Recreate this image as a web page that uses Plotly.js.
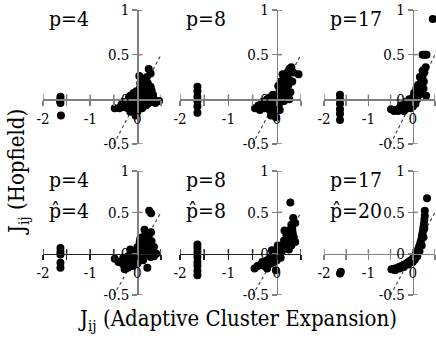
<!DOCTYPE html>
<html>
<head>
<meta charset="utf-8">
<script src="https://cdn.plot.ly/plotly-3.0.1.min.js"></script>
<style>
  html, body { margin: 0; padding: 0; background: #fff; }
  #chart { width: 436px; height: 339px; }
</style>
</head>
<body>
<div id="chart"></div>
<script>
// tick marks and labels
const X_TICKS = [-2, -1.5, -1, -0.5, 0, 0.5];
const X_TEXT = ['-2', ' ', '-1', ' ', '0', ' '];
const Y_TICKS = [-0.5, 0, 0.5, 1];
const Y_TEXT = ['-0.5', '0', '0.5', '1'];
const DIAG = [-0.5, 0.5];

const P_LABELS = ['p=4', 'p=8', 'p=17', 'p=4', 'p=8', 'p=17'];
const PHAT_LABELS = ['', '', '', 'p\u0302=4', 'p\u0302=8', 'p\u0302=20'];

// top row, p=4
const p4x = [-1.63, -1.63, -1.64, -1.63, -1.62,
  0.24, 0.28, 0.2, 0.15, 0.22, 0.1, 0.05, 0.18, 0.3, 0.25, 0.12, 0.0, -0.05, 0.08, 0.2, 0.35, 0.46,
  0.3, 0.15, 0.02, -0.1, -0.15, -0.2, -0.25, -0.12, -0.05, 0.05, 0.1, -0.3, -0.38, -0.48, -0.2, -0.1,
  0.0, -0.04, -0.15, 0.18, 0.12, 0.06, -0.02, 0.28, 0.04, -0.08, 0.16, 0.22, -0.3,
  -0.22, -0.18, -0.1, 0.02, 0.1, 0.14, 0.26, 0.33, 0.38, -0.34, -0.26, 0.0, 0.08, 0.2];
const p4y = [0.03, 0.0, -0.02, -0.04, -0.18,
  0.34, 0.29, 0.25, 0.2, 0.18, 0.15, 0.12, 0.12, 0.1, 0.05, 0.08, 0.06, 0.03, 0.03, 0.0, 0.0, -0.02,
  -0.03, -0.02, 0.0, 0.0, 0.04, -0.02, -0.05, -0.06, -0.04, -0.06, -0.1, -0.08, -0.1, -0.1, -0.1, -0.12,
  -0.1, -0.18, -0.14, -0.07, 0.22, 0.18, 0.09, 0.14, 0.26, 0.07, 0.05, -0.05, -0.03,
  -0.07, 0.02, 0.05, 0.04, 0.1, 0.12, 0.08, 0.05, -0.04, -0.06, -0.09, -0.14, -0.02, 0.1];

// top row, p=8
const p8x = [-1.64, -1.64, -1.64, -1.64, -1.64, -1.64,
  0.26, 0.3, 0.45, 0.22, 0.2, 0.25, 0.15, 0.18, 0.26, 0.28, 0.1, 0.05, 0.12, 0.0, -0.05, 0.08, 0.15,
  -0.1, -0.15, -0.2, -0.25, -0.3, -0.45, -0.35, -0.1, 0.0, -0.02, -0.05, -0.15, 0.05, 0.2, 0.32, 0.12,
  -0.08, -0.2, 0.03, 0.22, -0.12, 0.06,
  -0.25, -0.18, -0.06, 0.02, 0.1, 0.16, 0.24, 0.34, -0.38, -0.3, 0.08, 0.18];
const p8y = [0.14, 0.09, 0.03, -0.02, -0.08, -0.15,
  0.34, 0.36, 0.28, 0.3, 0.25, 0.22, 0.18, 0.13, 0.0, 0.08, 0.12, 0.08, 0.05, 0.04, 0.0, 0.0, -0.02,
  -0.03, 0.02, -0.05, -0.06, -0.08, -0.1, -0.12, -0.1, -0.07, -0.2, -0.15, -0.12, -0.05, 0.05, 0.2, 0.28,
  0.05, 0.0, 0.15, 0.1, -0.18, -0.12,
  -0.1, -0.08, -0.05, 0.0, 0.03, 0.1, 0.16, 0.3, -0.07, -0.03, 0.2, 0.02];

// top row, p=17
const p17x = [-1.64, -1.64, -1.64, -1.64, -1.64, -1.64,
  0.45, 0.22, 0.27, 0.31, 0.29, 0.26, 0.22, 0.2, 0.18, 0.15, 0.25, 0.12, 0.1, 0.08, 0.05, 0.0, 0.02,
  -0.05, -0.1, -0.15, -0.2, -0.25, -0.3, -0.49, -0.38, -0.12, -0.05, 0.0, 0.06, 0.1, 0.14, 0.18, -0.2,
  0.03, -0.08, 0.2, 0.16, 0.3,
  -0.42, -0.33, -0.27, -0.17, -0.1, -0.02, 0.04, 0.08, 0.12, 0.22, 0.24];
const p17y = [0.05, 0.0, -0.05, -0.11, -0.16, -0.23,
  0.9, 0.5, 0.5, 0.5, 0.36, 0.3, 0.26, 0.22, 0.18, 0.14, 0.2, 0.1, 0.07, 0.12, 0.04, 0.02, -0.02,
  -0.02, -0.05, -0.06, -0.08, -0.1, -0.1, -0.11, -0.12, -0.1, -0.1, -0.08, -0.05, 0.0, 0.05, 0.08, -0.13,
  0.07, 0.0, 0.12, 0.25, 0.04,
  -0.13, -0.13, -0.07, -0.03, -0.08, -0.04, 0.0, 0.02, 0.16, 0.32, 0.12];

// bottom row, p=4, p-hat=4
const q4x = [-1.63, -1.63, -1.63, -1.63, -1.63,
  0.25, 0.29, 0.15, 0.29, 0.1, 0.2, 0.05, 0.15, 0.25, 0.0, 0.1, 0.3, 0.4, 0.2, 0.05, -0.05, -0.1,
  -0.2, -0.3, -0.48, -0.35, -0.25, -0.27, -0.15, -0.05, 0.05, 0.21, 0.12, -0.1, -0.2, 0.0, 0.35, 0.08,
  -0.15, 0.18, 0.28,
  -0.4, -0.3, -0.12, -0.02, 0.02, 0.12, 0.18, 0.24, 0.3, 0.35, -0.22, 0.06];
const q4y = [0.07, 0.02, -0.01, -0.11, -0.17,
  0.52, 0.49, 0.29, 0.26, 0.2, 0.18, 0.14, 0.1, 0.12, 0.08, 0.05, 0.02, 0.0, 0.0, 0.0, 0.02, -0.02,
  -0.03, -0.05, -0.06, -0.1, -0.12, -0.19, -0.08, -0.08, -0.05, -0.17, -0.08, -0.15, -0.17, -0.12, 0.08, 0.1,
  0.05, 0.06, -0.04,
  -0.1, -0.13, -0.05, -0.03, 0.05, 0.0, 0.22, 0.2, 0.15, -0.03, -0.09, 0.18];

// bottom row, p=8, p-hat=8
const q8x = [-1.64, -1.64, -1.64, -1.64, -1.64, -1.64, -1.64, -1.64,
  0.28, 0.34, 0.38, 0.3, 0.32, 0.25, 0.28, 0.2, 0.15, 0.22, 0.3, 0.1, 0.05, 0.12, 0.0, -0.05, 0.05,
  -0.1, -0.15, -0.2, -0.3, -0.46, -0.35, -0.25, -0.12, -0.05, 0.0, -0.02, 0.08, 0.18, 0.25, 0.35, 0.16,
  -0.1, 0.02, 0.26, -0.2, 0.38,
  -0.4, -0.3, -0.18, -0.08, -0.03, 0.04, 0.1, 0.14, 0.2, 0.24, 0.33];
const q8y = [0.11, 0.07, 0.02, -0.04, -0.1, -0.15, -0.21, -0.26,
  0.62, 0.43, 0.37, 0.35, 0.3, 0.28, 0.22, 0.22, 0.16, 0.15, 0.1, 0.1, 0.06, 0.04, 0.02, 0.0, -0.02,
  -0.03, -0.06, -0.08, -0.1, -0.18, -0.14, -0.15, -0.12, -0.1, -0.08, -0.2, -0.05, 0.08, 0.05, 0.2, 0.28,
  0.04, 0.1, 0.18, -0.18, 0.14,
  -0.15, -0.13, -0.12, -0.07, -0.04, 0.0, 0.05, 0.1, 0.15, 0.12, 0.25];

// bottom row, p=17, p-hat=20
const q20x = [-1.64, -1.62, 0.32,
  -0.48, -0.44, -0.4, -0.36, -0.32, -0.28, -0.24, -0.2, -0.16, -0.12, -0.08, -0.04, 0.0, 0.03, 0.06,
  0.08, 0.1, 0.12, 0.14, 0.16, 0.18, 0.2, 0.21, 0.22, 0.23, 0.24, 0.25, 0.26, 0.27, 0.27,
  -0.4, -0.3, -0.2, -0.1, 0.0, 0.05, 0.1, 0.15, 0.2, 0.24, 0.26];
const q20y = [-0.24, -0.22, 0.67,
  -0.19, -0.185, -0.18, -0.175, -0.165, -0.155, -0.145, -0.135, -0.125, -0.11, -0.095, -0.08, -0.06, -0.04, -0.02,
  0.0, 0.02, 0.05, 0.08, 0.11, 0.15, 0.19, 0.22, 0.25, 0.28, 0.32, 0.36, 0.41, 0.46, 0.52,
  -0.2, -0.18, -0.16, -0.13, -0.1, -0.07, -0.03, 0.03, 0.1, 0.2, 0.3];

const PANEL_X = [p4x, p8x, p17x, q4x, q8x, q20x];
const PANEL_Y = [p4y, p8y, p17y, q4y, q8y, q20y];

(function () {
  'use strict';

  const W = 436, H = 339;
  const XR = [-2, 0.5], YR = [-0.5, 1];
  const FONT = 'DejaVu Serif Condensed, DejaVu Serif';
  const GREY = '#808080';

  // pixel boxes of each panel (left, right) and (top, bottom)
  const COLS = [[43, 161], [180, 301], [324, 435]];
  const ROWS = [[10, 144], [171, 295]];

  const px = (v) => v / W;
  const py = (v) => 1 - v / H;

  const layout = {
    width: W,
    height: H,
    margin: { t: 0, r: 0, b: 0, l: 0 },
    paper_bgcolor: '#fff',
    plot_bgcolor: 'rgba(0,0,0,0)',
    showlegend: false,
    font: { family: FONT, color: '#000', size: 15 },
    shapes: [],
    annotations: [],
  };
  const data = [];

  for (let i = 0; i < 6; i++) {
    const n = i + 1;
    const col = COLS[i % 3], row = ROWS[Math.floor(i / 3)];
    const xd = [px(col[0]), px(col[1])];
    const yd = [py(row[1]), py(row[0])];
    const xPos = yd[0] + (yd[1] - yd[0]) * (0 - YR[0]) / (YR[1] - YR[0]);
    const yPos = xd[0] + (xd[1] - xd[0]) * (0 - XR[0]) / (XR[1] - XR[0]);
    const xa = 'x' + (n === 1 ? '' : n), ya = 'y' + (n === 1 ? '' : n);
    const xline = (i === 3 || i === 4) ? '#222' : GREY;

    layout['xaxis' + (n === 1 ? '' : n)] = {
      domain: xd, range: XR, anchor: 'free', position: xPos,
      showline: true, linecolor: xline, linewidth: 1.5,
      ticks: 'outside', ticklen: 5, tickwidth: 1.5, tickcolor: xline,
      tickmode: 'array', tickvals: X_TICKS, ticktext: X_TEXT, ticklabeloverflow: 'allow',
      tickfont: { family: FONT, size: 15, color: '#000' },
      showgrid: false, zeroline: false, fixedrange: true,
    };
    layout['yaxis' + (n === 1 ? '' : n)] = {
      domain: yd, range: YR, anchor: 'free', position: yPos,
      showline: true, linecolor: GREY, linewidth: 1.5,
      ticks: 'outside', ticklen: 5, tickwidth: 1.5, tickcolor: GREY,
      tickmode: 'array', tickvals: Y_TICKS, ticktext: Y_TEXT, ticklabeloverflow: 'allow',
      tickfont: { family: FONT, size: 15, color: '#000' },
      showgrid: false, zeroline: false, fixedrange: true,
    };

    // other half of the crossing ticks
    X_TICKS.forEach((t) => layout.shapes.push({
      type: 'line', xref: xa, yref: ya, x0: t, x1: t, y0: 0, y1: 0.055,
      line: { color: xline, width: 1.5 }, layer: 'below',
    }));
    Y_TICKS.forEach((t) => layout.shapes.push({
      type: 'line', xref: xa, yref: ya, x0: 0, x1: 0.11, y0: t, y1: t,
      line: { color: GREY, width: 1.5 }, layer: 'below',
    }));

    data.push({
      type: 'scatter', mode: 'lines', x: DIAG, y: DIAG, xaxis: xa, yaxis: ya,
      line: { color: '#444', width: 1.2, dash: 'dot' }, hoverinfo: 'skip',
    });
    data.push({
      type: 'scatter', mode: 'markers', x: PANEL_X[i], y: PANEL_Y[i], xaxis: xa, yaxis: ya,
      marker: { color: '#000', size: 8 }, cliponaxis: false,
    });

    const lx = px(col[0] + 4);
    layout.annotations.push({
      text: P_LABELS[i], xref: 'paper', yref: 'paper', x: lx, y: py(row[0] + 9),
      xanchor: 'left', yanchor: 'middle', showarrow: false, font: { family: FONT, size: 21 },
    });
    if (PHAT_LABELS[i]) {
      layout.annotations.push({
        text: PHAT_LABELS[i], xref: 'paper', yref: 'paper', x: lx, y: py(row[0] + 40),
        xanchor: 'left', yanchor: 'middle', showarrow: false, font: { family: FONT, size: 21 },
      });
    }
  }

  layout.annotations.push({
    text: 'J<sub>ij</sub> (Hopfield)', xref: 'paper', yref: 'paper', x: px(18), y: py(172),
    textangle: -90, xanchor: 'center', yanchor: 'middle', showarrow: false,
    font: { family: FONT, size: 22 },
  });
  layout.annotations.push({
    text: 'J<sub>ij</sub> (Adaptive Cluster Expansion)', xref: 'paper', yref: 'paper',
    x: px(238), y: py(320), xanchor: 'center', yanchor: 'middle', showarrow: false,
    font: { family: FONT, size: 22 },
  });

  Plotly.newPlot('chart', data, layout, { displayModeBar: false, staticPlot: true });
})();
</script>
</body>
</html>
